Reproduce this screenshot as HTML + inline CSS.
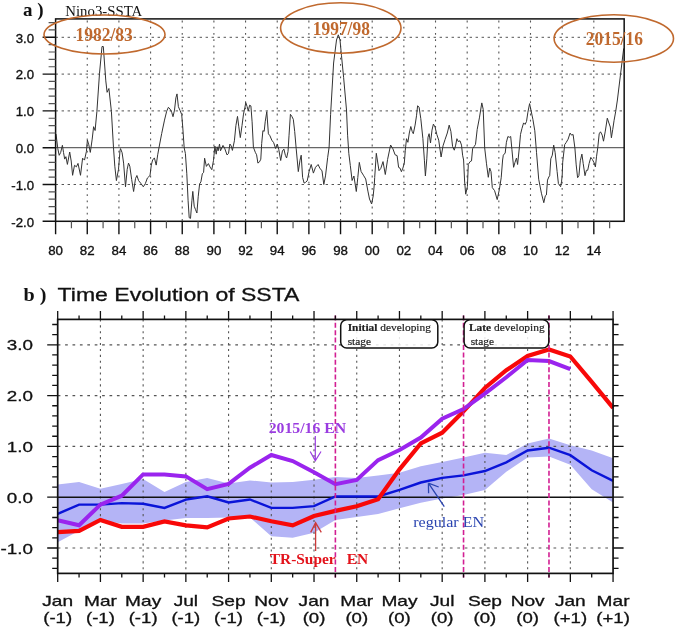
<!DOCTYPE html>
<html><head><meta charset="utf-8"><style>
html,body{margin:0;padding:0;background:#fff;}
body{width:675px;height:629px;overflow:hidden;}
svg{display:block;filter:blur(0.35px);}
</style></head><body>
<svg width="675" height="629" viewBox="0 0 675 629">
<rect width="675" height="629" fill="#fff"/>
<path d="M55.60 37.30H624.17M55.60 74.10H624.17M55.60 110.90H624.17M55.60 184.50H624.17" stroke="#555" stroke-width="1" stroke-dasharray="2.4 3.6" fill="none"/>
<path d="M87.26 18.90V221.30M118.92 18.90V221.30M150.58 18.90V221.30M182.24 18.90V221.30M213.90 18.90V221.30M245.56 18.90V221.30M277.22 18.90V221.30M308.88 18.90V221.30M340.54 18.90V221.30M372.20 18.90V221.30M403.86 18.90V221.30M435.52 18.90V221.30M467.18 18.90V221.30M498.84 18.90V221.30M530.50 18.90V221.30M562.16 18.90V221.30M593.82 18.90V221.30" stroke="#555" stroke-width="1.1" stroke-dasharray="1.8 4.4" stroke-dashoffset="4.5" fill="none"/>
<path d="M55.60 147.70H624.17" stroke="#666" stroke-width="1.3" fill="none"/>
<path d="M56.0 134.0 L57.8 148.6 L59.2 155.3 L60.7 152.4 L62.4 145.3 L63.5 152.4 L64.7 159.1 L65.9 156.7 L67.4 164.4 L69.7 152.0 L71.2 161.0 L72.6 175.3 L74.5 165.3 L76.4 166.8 L78.0 163.4 L80.5 175.3 L82.6 158.2 L84.5 160.1 L86.4 151.5 L87.4 140.0 L88.8 144.8 L90.3 152.4 L92.2 139.1 L93.6 126.7 L95.1 130.5 L96.9 111.4 L99.5 73.3 L102.0 46.5 L103.3 46.5 L105.8 80.9 L107.1 92.3 L108.9 88.5 L111.4 111.4 L113.5 147.8 L114.8 166.2 L116.4 180.6 L118.5 169.3 L120.0 150.7 L120.5 148.6 L122.1 152.7 L123.6 163.1 L125.5 186.8 L127.2 169.3 L128.5 163.1 L129.8 166.2 L131.7 179.6 L133.6 191.5 L135.5 178.6 L136.9 175.5 L138.6 180.6 L140.7 183.2 L143.3 186.8 L145.3 183.7 L147.4 178.0 L150.0 175.5 L151.3 165.1 L152.6 160.0 L154.4 157.9 L156.2 165.1 L157.7 154.8 L159.0 147.6 L161.7 133.5 L164.5 120.1 L166.7 111.2 L168.4 107.3 L170.0 109.0 L171.7 112.3 L173.0 116.7 L174.5 110.1 L175.9 97.8 L177.0 93.9 L178.4 106.7 L180.1 110.6 L181.7 114.5 L182.8 127.9 L184.2 147.9 L185.4 153.5 L186.8 173.8 L188.1 200.8 L189.2 217.7 L190.5 218.4 L191.9 200.8 L192.8 191.4 L194.2 206.2 L195.5 209.6 L196.9 213.0 L198.2 196.8 L199.6 183.9 L200.9 181.9 L202.3 173.8 L203.6 172.4 L204.6 158.2 L206.4 166.4 L208.4 163.6 L210.0 167.0 L211.8 169.7 L213.5 160.3 L214.9 146.1 L216.2 154.2 L217.2 146.8 L218.1 150.8 L219.5 144.1 L220.5 150.8 L223.0 145.4 L224.6 148.1 L227.0 154.9 L228.5 153.5 L229.9 144.0 L231.2 145.9 L232.4 150.4 L234.4 140.8 L235.9 125.6 L237.5 116.4 L238.8 126.8 L240.3 137.6 L242.0 125.6 L243.5 114.1 L244.8 107.8 L245.8 102.7 L247.1 106.5 L248.3 111.0 L249.6 105.2 L250.9 105.9 L252.1 121.8 L253.4 147.2 L255.3 152.3 L256.6 154.8 L257.9 163.1 L259.5 161.8 L260.8 159.2 L261.7 143.4 L262.9 130.7 L264.2 131.3 L265.2 121.8 L266.8 111.6 L268.4 133.8 L269.9 135.7 L271.8 140.2 L273.7 142.7 L275.6 148.5 L277.3 144.0 L278.8 149.7 L280.7 160.5 L282.4 151.0 L283.9 149.1 L285.4 155.4 L286.6 158.0 L288.0 151.6 L289.0 135.8 L290.4 114.3 L291.9 116.5 L293.3 119.3 L294.7 131.5 L296.2 148.7 L298.3 171.6 L300.0 160.2 L301.2 155.2 L302.6 177.4 L304.1 183.1 L305.5 182.4 L307.2 180.9 L309.1 171.6 L311.2 164.5 L313.4 173.1 L315.5 167.3 L318.1 164.5 L319.8 168.1 L322.0 170.9 L323.8 184.5 L325.5 175.9 L327.7 157.3 L329.1 147.3 L330.6 114.3 L333.6 63.0 L336.5 40.0 L338.3 34.8 L340.0 40.0 L341.5 55.8 L343.6 77.3 L346.5 110.0 L347.6 135.2 L348.8 153.3 L350.3 165.4 L352.1 180.5 L353.9 176.0 L356.3 191.5 L357.8 177.5 L359.3 162.4 L361.1 171.5 L363.4 175.2 L365.7 179.0 L367.9 191.1 L369.5 199.0 L371.6 204.0 L373.2 196.0 L374.3 184.3 L374.7 177.5 L376.3 153.3 L379.0 170.7 L380.8 168.4 L383.0 161.6 L385.3 174.5 L387.6 159.4 L390.6 145.0 L392.9 148.8 L395.1 154.8 L397.1 155.6 L398.6 167.4 L400.0 168.1 L401.4 171.7 L402.9 168.1 L404.3 163.1 L405.3 150.2 L406.5 138.7 L407.9 142.3 L409.3 133.0 L410.8 126.5 L412.2 131.5 L413.3 133.7 L415.1 125.1 L416.5 115.8 L417.6 105.8 L419.1 107.2 L420.8 118.7 L422.9 138.7 L424.4 160.2 L425.4 176.0 L426.8 158.8 L428.0 137.3 L429.1 133.7 L430.5 143.0 L432.0 130.1 L433.4 124.1 L435.1 127.2 L436.8 134.4 L438.7 140.1 L441.1 157.0 L443.0 145.9 L445.1 139.4 L447.3 133.0 L449.2 125.1 L450.9 131.5 L452.6 146.6 L454.3 150.2 L455.7 145.1 L456.9 138.7 L458.3 141.6 L460.0 140.8 L461.5 145.1 L462.6 155.2 L463.6 160.0 L464.6 181.0 L465.7 194.2 L467.4 186.7 L468.3 164.4 L470.1 161.6 L471.5 160.9 L472.6 148.7 L474.1 146.6 L475.5 144.4 L477.2 129.4 L479.4 117.9 L481.8 102.9 L483.2 109.3 L484.7 148.0 L486.5 163.8 L488.3 177.3 L489.7 168.0 L491.0 171.6 L492.3 187.6 L494.6 190.7 L497.2 199.6 L499.4 189.3 L501.2 177.8 L502.6 160.0 L503.3 155.2 L505.2 153.0 L506.4 142.3 L507.9 136.5 L509.3 137.3 L510.7 136.5 L511.9 149.4 L513.6 167.3 L515.0 162.3 L516.5 158.0 L517.6 164.5 L519.3 148.0 L520.5 134.4 L521.9 128.7 L523.6 122.9 L525.1 124.4 L526.5 121.5 L527.9 112.2 L529.6 103.6 L531.1 110.8 L532.9 119.4 L534.8 130.8 L536.5 152.3 L538.7 179.2 L541.4 193.2 L543.8 202.7 L545.3 195.8 L546.4 195.0 L547.5 180.1 L548.8 177.0 L549.7 175.7 L550.8 158.8 L552.3 155.2 L553.7 145.1 L555.1 152.3 L557.1 171.4 L558.4 183.6 L560.6 186.7 L561.5 181.9 L562.2 175.7 L562.7 162.2 L564.7 144.6 L566.1 142.6 L568.1 139.2 L570.1 133.1 L571.5 135.1 L573.1 134.5 L574.9 148.0 L576.2 164.9 L577.6 177.7 L578.9 175.7 L580.3 160.8 L581.9 154.1 L583.2 163.5 L585.0 175.7 L586.4 170.3 L587.7 170.3 L589.1 163.5 L590.8 157.4 L592.4 159.5 L594.1 162.8 L595.4 166.9 L596.5 156.8 L597.8 147.3 L599.2 133.8 L600.5 131.8 L602.2 135.1 L603.5 141.2 L605.3 131.1 L607.3 118.2 L608.9 123.0 L610.3 127.0 L611.4 137.8 L612.7 129.7 L614.1 120.3 L615.7 111.5 L617.4 100.0 L620.5 74.5 L623.7 48.4" stroke="#333" stroke-width="1" fill="none" stroke-linejoin="round"/>
<rect x="55.60" y="18.90" width="568.57" height="202.40" fill="none" stroke="#111" stroke-width="1.5"/>
<path d="M55.60 221.30H42.60M55.60 184.50H42.60M55.60 147.70H42.60M55.60 110.90H42.60M55.60 74.10H42.60M55.60 37.30H42.60M55.60 221.30V234.30M87.26 221.30V234.30M118.92 221.30V234.30M150.58 221.30V234.30M182.24 221.30V234.30M213.90 221.30V234.30M245.56 221.30V234.30M277.22 221.30V234.30M308.88 221.30V234.30M340.54 221.30V234.30M372.20 221.30V234.30M403.86 221.30V234.30M435.52 221.30V234.30M467.18 221.30V234.30M498.84 221.30V234.30M530.50 221.30V234.30M562.16 221.30V234.30M593.82 221.30V234.30" stroke="#111" stroke-width="1.4" fill="none"/>
<path d="M55.60 213.94H48.60M55.60 206.58H48.60M55.60 199.22H48.60M55.60 191.86H48.60M55.60 177.14H48.60M55.60 169.78H48.60M55.60 162.42H48.60M55.60 155.06H48.60M55.60 140.34H48.60M55.60 132.98H48.60M55.60 125.62H48.60M55.60 118.26H48.60M55.60 103.54H48.60M55.60 96.18H48.60M55.60 88.82H48.60M55.60 81.46H48.60M55.60 66.74H48.60M55.60 59.38H48.60M55.60 52.02H48.60M55.60 44.66H48.60M55.60 29.94H48.60M55.60 22.58H48.60M71.43 221.30V228.30M103.09 221.30V228.30M134.75 221.30V228.30M166.41 221.30V228.30M198.07 221.30V228.30M229.73 221.30V228.30M261.39 221.30V228.30M293.05 221.30V228.30M324.71 221.30V228.30M356.37 221.30V228.30M388.03 221.30V228.30M419.69 221.30V228.30M451.35 221.30V228.30M483.01 221.30V228.30M514.67 221.30V228.30M546.33 221.30V228.30M577.99 221.30V228.30M609.65 221.30V228.30" stroke="#555" stroke-width="1.2" fill="none"/>
<text x="34" y="42.60" text-anchor="end" style="font-family:'Liberation Sans',sans-serif;font-size:13.2px" fill="#111" stroke="#111" stroke-width="0.35">3.0</text>
<text x="34" y="79.40" text-anchor="end" style="font-family:'Liberation Sans',sans-serif;font-size:13.2px" fill="#111" stroke="#111" stroke-width="0.35">2.0</text>
<text x="34" y="116.20" text-anchor="end" style="font-family:'Liberation Sans',sans-serif;font-size:13.2px" fill="#111" stroke="#111" stroke-width="0.35">1.0</text>
<text x="34" y="153.00" text-anchor="end" style="font-family:'Liberation Sans',sans-serif;font-size:13.2px" fill="#111" stroke="#111" stroke-width="0.35">0.0</text>
<text x="34" y="189.80" text-anchor="end" style="font-family:'Liberation Sans',sans-serif;font-size:13.2px" fill="#111" stroke="#111" stroke-width="0.35">-1.0</text>
<text x="34" y="226.60" text-anchor="end" style="font-family:'Liberation Sans',sans-serif;font-size:13.2px" fill="#111" stroke="#111" stroke-width="0.35">-2.0</text>
<text x="55.60" y="255.3" text-anchor="middle" style="font-family:'Liberation Sans',sans-serif;font-size:13.3px" fill="#111" stroke="#111" stroke-width="0.35">80</text>
<text x="87.26" y="255.3" text-anchor="middle" style="font-family:'Liberation Sans',sans-serif;font-size:13.3px" fill="#111" stroke="#111" stroke-width="0.35">82</text>
<text x="118.92" y="255.3" text-anchor="middle" style="font-family:'Liberation Sans',sans-serif;font-size:13.3px" fill="#111" stroke="#111" stroke-width="0.35">84</text>
<text x="150.58" y="255.3" text-anchor="middle" style="font-family:'Liberation Sans',sans-serif;font-size:13.3px" fill="#111" stroke="#111" stroke-width="0.35">86</text>
<text x="182.24" y="255.3" text-anchor="middle" style="font-family:'Liberation Sans',sans-serif;font-size:13.3px" fill="#111" stroke="#111" stroke-width="0.35">88</text>
<text x="213.90" y="255.3" text-anchor="middle" style="font-family:'Liberation Sans',sans-serif;font-size:13.3px" fill="#111" stroke="#111" stroke-width="0.35">90</text>
<text x="245.56" y="255.3" text-anchor="middle" style="font-family:'Liberation Sans',sans-serif;font-size:13.3px" fill="#111" stroke="#111" stroke-width="0.35">92</text>
<text x="277.22" y="255.3" text-anchor="middle" style="font-family:'Liberation Sans',sans-serif;font-size:13.3px" fill="#111" stroke="#111" stroke-width="0.35">94</text>
<text x="308.88" y="255.3" text-anchor="middle" style="font-family:'Liberation Sans',sans-serif;font-size:13.3px" fill="#111" stroke="#111" stroke-width="0.35">96</text>
<text x="340.54" y="255.3" text-anchor="middle" style="font-family:'Liberation Sans',sans-serif;font-size:13.3px" fill="#111" stroke="#111" stroke-width="0.35">98</text>
<text x="372.20" y="255.3" text-anchor="middle" style="font-family:'Liberation Sans',sans-serif;font-size:13.3px" fill="#111" stroke="#111" stroke-width="0.35">00</text>
<text x="403.86" y="255.3" text-anchor="middle" style="font-family:'Liberation Sans',sans-serif;font-size:13.3px" fill="#111" stroke="#111" stroke-width="0.35">02</text>
<text x="435.52" y="255.3" text-anchor="middle" style="font-family:'Liberation Sans',sans-serif;font-size:13.3px" fill="#111" stroke="#111" stroke-width="0.35">04</text>
<text x="467.18" y="255.3" text-anchor="middle" style="font-family:'Liberation Sans',sans-serif;font-size:13.3px" fill="#111" stroke="#111" stroke-width="0.35">06</text>
<text x="498.84" y="255.3" text-anchor="middle" style="font-family:'Liberation Sans',sans-serif;font-size:13.3px" fill="#111" stroke="#111" stroke-width="0.35">08</text>
<text x="530.50" y="255.3" text-anchor="middle" style="font-family:'Liberation Sans',sans-serif;font-size:13.3px" fill="#111" stroke="#111" stroke-width="0.35">10</text>
<text x="562.16" y="255.3" text-anchor="middle" style="font-family:'Liberation Sans',sans-serif;font-size:13.3px" fill="#111" stroke="#111" stroke-width="0.35">12</text>
<text x="593.82" y="255.3" text-anchor="middle" style="font-family:'Liberation Sans',sans-serif;font-size:13.3px" fill="#111" stroke="#111" stroke-width="0.35">14</text>
<text x="23" y="15.5" style="font-family:'Liberation Serif',serif;font-size:19px;font-weight:bold" fill="#111">a )</text>
<text x="65.3" y="15.5" style="font-family:'Liberation Serif',serif;font-size:14.8px" fill="#111">Nino3-SSTA</text>
<ellipse cx="104.5" cy="34.5" rx="60.5" ry="19.5" fill="none" stroke="#c0692e" stroke-width="1.6"/>
<ellipse cx="340.8" cy="28" rx="60.2" ry="25.2" fill="none" stroke="#c0692e" stroke-width="1.6"/>
<ellipse cx="613.8" cy="38.5" rx="59.7" ry="23.8" fill="none" stroke="#c0692e" stroke-width="1.6"/>
<text x="0" y="0" text-anchor="middle" transform="translate(104.2 40.6) scale(0.92 1)" style="font-family:'Liberation Serif',serif;font-size:19px;font-weight:bold" fill="#c0692e">1982/83</text>
<text x="0" y="0" text-anchor="middle" transform="translate(341.3 35.2) scale(0.92 1)" style="font-family:'Liberation Serif',serif;font-size:19px;font-weight:bold" fill="#c0692e">1997/98</text>
<text x="0" y="0" text-anchor="middle" transform="translate(614.3 45.1) scale(0.92 1)" style="font-family:'Liberation Serif',serif;font-size:19px;font-weight:bold" fill="#c0692e">2015/16</text>
<path d="M57.7 484.5 L79.1 482.0 L100.4 488.8 L121.8 484.0 L143.1 478.9 L164.5 492.1 L185.9 482.0 L207.2 477.9 L228.6 483.5 L249.9 480.4 L271.3 482.5 L292.7 482.0 L314.0 479.7 L335.4 476.9 L356.7 477.9 L378.1 475.4 L399.5 472.8 L420.8 466.2 L442.2 462.1 L463.5 457.6 L484.9 452.8 L506.3 455.0 L527.6 443.4 L549.0 438.5 L570.3 445.2 L591.7 450.5 L613.1 458.3 L613.1 502.4 L591.7 489.3 L570.3 464.7 L549.0 456.6 L527.6 457.6 L506.3 471.8 L484.9 490.1 L463.5 494.9 L442.2 498.4 L420.8 502.8 L399.5 508.2 L378.1 514.0 L356.7 516.9 L335.4 520.1 L314.0 532.8 L292.7 537.8 L271.3 536.2 L249.9 517.5 L228.6 517.5 L207.2 518.0 L185.9 518.0 L164.5 520.6 L143.1 523.6 L121.8 523.6 L100.4 520.6 L79.1 530.7 L57.7 542.2Z" fill="#b4b4f6" stroke="none"/>
<path d="M57.70 344.80H613.06M57.70 395.60H613.06M57.70 446.40H613.06M57.70 548.00H613.06" stroke="#555" stroke-width="1.2" stroke-dasharray="2.7 4.7" fill="none"/>
<path d="M100.42 319.40V573.40M143.14 319.40V573.40M185.86 319.40V573.40M228.58 319.40V573.40M271.30 319.40V573.40M314.02 319.40V573.40M356.74 319.40V573.40M399.46 319.40V573.40M442.18 319.40V573.40M484.90 319.40V573.40M527.62 319.40V573.40M570.34 319.40V573.40" stroke="#555" stroke-width="1.1" stroke-dasharray="2.1 3.8" fill="none"/>
<path d="M57.70 497.20H613.06" stroke="#111" stroke-width="1.4" fill="none"/>
<path d="M57.7 513.8 L79.1 504.6 L100.4 504.6 L121.8 503.1 L143.1 503.7 L164.5 507.9 L185.9 499.6 L207.2 496.3 L228.6 502.5 L249.9 499.5 L271.3 507.9 L292.7 507.9 L314.0 506.1 L335.4 496.5 L356.7 496.5 L378.1 496.5 L399.5 489.8 L420.8 482.5 L442.2 477.9 L463.5 475.4 L484.9 471.0 L506.3 462.3 L527.6 450.5 L549.0 447.7 L570.3 455.2 L591.7 470.3 L613.1 480.9" stroke="#0a14d8" stroke-width="2.4" fill="none" stroke-linejoin="miter" stroke-miterlimit="2"/>
<path d="M57.7 532.1 L79.1 530.9 L100.4 520.0 L121.8 526.8 L143.1 526.8 L164.5 521.5 L185.9 525.3 L207.2 527.4 L228.6 518.5 L249.9 516.5 L271.3 521.3 L292.7 525.4 L314.0 516.0 L335.4 510.9 L356.7 506.3 L378.1 499.2 L399.5 469.3 L420.8 443.4 L442.2 432.7 L463.5 411.3 L484.9 388.0 L506.3 370.2 L527.6 356.0 L549.0 349.4 L570.3 356.5 L591.7 381.9 L613.1 407.8" stroke="#f80808" stroke-width="4.2" fill="none" stroke-linejoin="miter" stroke-miterlimit="2"/>
<path d="M57.7 520.3 L79.1 525.3 L100.4 504.6 L121.8 495.7 L143.1 474.4 L164.5 474.4 L185.9 476.4 L207.2 489.1 L228.6 483.9 L249.9 467.7 L271.3 455.0 L292.7 461.1 L314.0 472.3 L335.4 484.2 L356.7 479.9 L378.1 460.1 L399.5 450.0 L420.8 437.5 L442.2 418.8 L463.5 409.1 L484.9 393.6 L506.3 377.3 L527.6 360.0 L549.0 361.1 L570.3 369.2" stroke="#9a24ee" stroke-width="4.0" fill="none" stroke-linejoin="miter" stroke-miterlimit="2"/>
<path d="M335.38 315.40V577.40M463.54 315.40V577.40M548.98 315.40V577.40" stroke="#d21f93" stroke-width="1.6" stroke-dasharray="5 2.4" fill="none"/>
<rect x="57.70" y="319.40" width="555.36" height="254.00" fill="none" stroke="#111" stroke-width="1.7"/>
<path d="M57.70 568.32H52.20M613.06 568.32H618.56M57.70 558.16H52.20M613.06 558.16H618.56M57.70 548.00H47.20M613.06 548.00H623.56M57.70 537.84H52.20M613.06 537.84H618.56M57.70 527.68H52.20M613.06 527.68H618.56M57.70 517.52H52.20M613.06 517.52H618.56M57.70 507.36H52.20M613.06 507.36H618.56M57.70 497.20H47.20M613.06 497.20H623.56M57.70 487.04H52.20M613.06 487.04H618.56M57.70 476.88H52.20M613.06 476.88H618.56M57.70 466.72H52.20M613.06 466.72H618.56M57.70 456.56H52.20M613.06 456.56H618.56M57.70 446.40H47.20M613.06 446.40H623.56M57.70 436.24H52.20M613.06 436.24H618.56M57.70 426.08H52.20M613.06 426.08H618.56M57.70 415.92H52.20M613.06 415.92H618.56M57.70 405.76H52.20M613.06 405.76H618.56M57.70 395.60H47.20M613.06 395.60H623.56M57.70 385.44H52.20M613.06 385.44H618.56M57.70 375.28H52.20M613.06 375.28H618.56M57.70 365.12H52.20M613.06 365.12H618.56M57.70 354.96H52.20M613.06 354.96H618.56M57.70 344.80H47.20M613.06 344.80H623.56M57.70 334.64H52.20M613.06 334.64H618.56M57.70 324.48H52.20M613.06 324.48H618.56M57.70 573.40V581.90M57.70 319.40V310.90M79.06 573.40V577.40M79.06 319.40V315.40M100.42 573.40V581.90M100.42 319.40V310.90M121.78 573.40V577.40M121.78 319.40V315.40M143.14 573.40V581.90M143.14 319.40V310.90M164.50 573.40V577.40M164.50 319.40V315.40M185.86 573.40V581.90M185.86 319.40V310.90M207.22 573.40V577.40M207.22 319.40V315.40M228.58 573.40V581.90M228.58 319.40V310.90M249.94 573.40V577.40M249.94 319.40V315.40M271.30 573.40V581.90M271.30 319.40V310.90M292.66 573.40V577.40M292.66 319.40V315.40M314.02 573.40V581.90M314.02 319.40V310.90M335.38 573.40V577.40M335.38 319.40V315.40M356.74 573.40V581.90M356.74 319.40V310.90M378.10 573.40V577.40M378.10 319.40V315.40M399.46 573.40V581.90M399.46 319.40V310.90M420.82 573.40V577.40M420.82 319.40V315.40M442.18 573.40V581.90M442.18 319.40V310.90M463.54 573.40V577.40M463.54 319.40V315.40M484.90 573.40V581.90M484.90 319.40V310.90M506.26 573.40V577.40M506.26 319.40V315.40M527.62 573.40V581.90M527.62 319.40V310.90M548.98 573.40V577.40M548.98 319.40V315.40M570.34 573.40V581.90M570.34 319.40V310.90M591.70 573.40V577.40M591.70 319.40V315.40M613.06 573.40V581.90M613.06 319.40V310.90" stroke="#111" stroke-width="1.3" fill="none"/>
<text x="0" y="0" text-anchor="end" transform="translate(33 350.40) scale(1.28 1)" style="font-family:'Liberation Sans',sans-serif;font-size:14.7px" fill="#111" stroke="#111" stroke-width="0.3">3.0</text>
<text x="0" y="0" text-anchor="end" transform="translate(33 401.20) scale(1.28 1)" style="font-family:'Liberation Sans',sans-serif;font-size:14.7px" fill="#111" stroke="#111" stroke-width="0.3">2.0</text>
<text x="0" y="0" text-anchor="end" transform="translate(33 452.00) scale(1.28 1)" style="font-family:'Liberation Sans',sans-serif;font-size:14.7px" fill="#111" stroke="#111" stroke-width="0.3">1.0</text>
<text x="0" y="0" text-anchor="end" transform="translate(33 502.80) scale(1.28 1)" style="font-family:'Liberation Sans',sans-serif;font-size:14.7px" fill="#111" stroke="#111" stroke-width="0.3">0.0</text>
<text x="0" y="0" text-anchor="end" transform="translate(33 553.60) scale(1.28 1)" style="font-family:'Liberation Sans',sans-serif;font-size:14.7px" fill="#111" stroke="#111" stroke-width="0.3">-1.0</text>
<text x="0" y="0" text-anchor="middle" transform="translate(57.70 605.9) scale(1.31 1)" style="font-family:'Liberation Sans',sans-serif;font-size:14.6px" fill="#111" stroke="#111" stroke-width="0.3">Jan</text>
<text x="0" y="0" text-anchor="middle" transform="translate(57.70 622.6) scale(1.31 1)" style="font-family:'Liberation Sans',sans-serif;font-size:14.2px" fill="#111" stroke="#111" stroke-width="0.3">(-1)</text>
<text x="0" y="0" text-anchor="middle" transform="translate(100.42 605.9) scale(1.31 1)" style="font-family:'Liberation Sans',sans-serif;font-size:14.6px" fill="#111" stroke="#111" stroke-width="0.3">Mar</text>
<text x="0" y="0" text-anchor="middle" transform="translate(100.42 622.6) scale(1.31 1)" style="font-family:'Liberation Sans',sans-serif;font-size:14.2px" fill="#111" stroke="#111" stroke-width="0.3">(-1)</text>
<text x="0" y="0" text-anchor="middle" transform="translate(143.14 605.9) scale(1.31 1)" style="font-family:'Liberation Sans',sans-serif;font-size:14.6px" fill="#111" stroke="#111" stroke-width="0.3">May</text>
<text x="0" y="0" text-anchor="middle" transform="translate(143.14 622.6) scale(1.31 1)" style="font-family:'Liberation Sans',sans-serif;font-size:14.2px" fill="#111" stroke="#111" stroke-width="0.3">(-1)</text>
<text x="0" y="0" text-anchor="middle" transform="translate(185.86 605.9) scale(1.31 1)" style="font-family:'Liberation Sans',sans-serif;font-size:14.6px" fill="#111" stroke="#111" stroke-width="0.3">Jul</text>
<text x="0" y="0" text-anchor="middle" transform="translate(185.86 622.6) scale(1.31 1)" style="font-family:'Liberation Sans',sans-serif;font-size:14.2px" fill="#111" stroke="#111" stroke-width="0.3">(-1)</text>
<text x="0" y="0" text-anchor="middle" transform="translate(228.58 605.9) scale(1.31 1)" style="font-family:'Liberation Sans',sans-serif;font-size:14.6px" fill="#111" stroke="#111" stroke-width="0.3">Sep</text>
<text x="0" y="0" text-anchor="middle" transform="translate(228.58 622.6) scale(1.31 1)" style="font-family:'Liberation Sans',sans-serif;font-size:14.2px" fill="#111" stroke="#111" stroke-width="0.3">(-1)</text>
<text x="0" y="0" text-anchor="middle" transform="translate(271.30 605.9) scale(1.31 1)" style="font-family:'Liberation Sans',sans-serif;font-size:14.6px" fill="#111" stroke="#111" stroke-width="0.3">Nov</text>
<text x="0" y="0" text-anchor="middle" transform="translate(271.30 622.6) scale(1.31 1)" style="font-family:'Liberation Sans',sans-serif;font-size:14.2px" fill="#111" stroke="#111" stroke-width="0.3">(-1)</text>
<text x="0" y="0" text-anchor="middle" transform="translate(314.02 605.9) scale(1.31 1)" style="font-family:'Liberation Sans',sans-serif;font-size:14.6px" fill="#111" stroke="#111" stroke-width="0.3">Jan</text>
<text x="0" y="0" text-anchor="middle" transform="translate(314.02 622.6) scale(1.31 1)" style="font-family:'Liberation Sans',sans-serif;font-size:14.2px" fill="#111" stroke="#111" stroke-width="0.3">(0)</text>
<text x="0" y="0" text-anchor="middle" transform="translate(356.74 605.9) scale(1.31 1)" style="font-family:'Liberation Sans',sans-serif;font-size:14.6px" fill="#111" stroke="#111" stroke-width="0.3">Mar</text>
<text x="0" y="0" text-anchor="middle" transform="translate(356.74 622.6) scale(1.31 1)" style="font-family:'Liberation Sans',sans-serif;font-size:14.2px" fill="#111" stroke="#111" stroke-width="0.3">(0)</text>
<text x="0" y="0" text-anchor="middle" transform="translate(399.46 605.9) scale(1.31 1)" style="font-family:'Liberation Sans',sans-serif;font-size:14.6px" fill="#111" stroke="#111" stroke-width="0.3">May</text>
<text x="0" y="0" text-anchor="middle" transform="translate(399.46 622.6) scale(1.31 1)" style="font-family:'Liberation Sans',sans-serif;font-size:14.2px" fill="#111" stroke="#111" stroke-width="0.3">(0)</text>
<text x="0" y="0" text-anchor="middle" transform="translate(442.18 605.9) scale(1.31 1)" style="font-family:'Liberation Sans',sans-serif;font-size:14.6px" fill="#111" stroke="#111" stroke-width="0.3">Jul</text>
<text x="0" y="0" text-anchor="middle" transform="translate(442.18 622.6) scale(1.31 1)" style="font-family:'Liberation Sans',sans-serif;font-size:14.2px" fill="#111" stroke="#111" stroke-width="0.3">(0)</text>
<text x="0" y="0" text-anchor="middle" transform="translate(484.90 605.9) scale(1.31 1)" style="font-family:'Liberation Sans',sans-serif;font-size:14.6px" fill="#111" stroke="#111" stroke-width="0.3">Sep</text>
<text x="0" y="0" text-anchor="middle" transform="translate(484.90 622.6) scale(1.31 1)" style="font-family:'Liberation Sans',sans-serif;font-size:14.2px" fill="#111" stroke="#111" stroke-width="0.3">(0)</text>
<text x="0" y="0" text-anchor="middle" transform="translate(527.62 605.9) scale(1.31 1)" style="font-family:'Liberation Sans',sans-serif;font-size:14.6px" fill="#111" stroke="#111" stroke-width="0.3">Nov</text>
<text x="0" y="0" text-anchor="middle" transform="translate(527.62 622.6) scale(1.31 1)" style="font-family:'Liberation Sans',sans-serif;font-size:14.2px" fill="#111" stroke="#111" stroke-width="0.3">(0)</text>
<text x="0" y="0" text-anchor="middle" transform="translate(570.34 605.9) scale(1.31 1)" style="font-family:'Liberation Sans',sans-serif;font-size:14.6px" fill="#111" stroke="#111" stroke-width="0.3">Jan</text>
<text x="0" y="0" text-anchor="middle" transform="translate(570.34 622.6) scale(1.31 1)" style="font-family:'Liberation Sans',sans-serif;font-size:14.2px" fill="#111" stroke="#111" stroke-width="0.3">(+1)</text>
<text x="0" y="0" text-anchor="middle" transform="translate(613.06 605.9) scale(1.31 1)" style="font-family:'Liberation Sans',sans-serif;font-size:14.6px" fill="#111" stroke="#111" stroke-width="0.3">Mar</text>
<text x="0" y="0" text-anchor="middle" transform="translate(613.06 622.6) scale(1.31 1)" style="font-family:'Liberation Sans',sans-serif;font-size:14.2px" fill="#111" stroke="#111" stroke-width="0.3">(+1)</text>
<text x="0" y="0" transform="translate(23.6 300.9) scale(1.08 1)" style="font-family:'Liberation Serif',serif;font-size:18.6px;font-weight:bold" fill="#111">b )</text>
<text x="0" y="0" transform="translate(57.6 300.6) scale(1.28 1)" style="font-family:'Liberation Sans',sans-serif;font-size:18px" fill="#111" stroke="#111" stroke-width="0.3">Time Evolution of SSTA</text>
<rect x="340.7" y="319.7" width="97.1" height="28.4" rx="6" ry="6" fill="#fff" fill-opacity="0.85" stroke="#111" stroke-width="1.5"/>
<text x="347.7" y="331" style="font-family:'Liberation Serif',serif;font-size:11.4px" fill="#222" stroke="#222" stroke-width="0.2"><tspan font-weight="bold">Initial</tspan> developing</text>
<text x="347.7" y="344.5" style="font-family:'Liberation Serif',serif;font-size:11.4px" fill="#222" stroke="#222" stroke-width="0.2">stage</text>
<rect x="464.1" y="319.7" width="84.7" height="28.4" rx="6" ry="6" fill="#fff" fill-opacity="0.85" stroke="#111" stroke-width="1.5"/>
<text x="469.0" y="331" style="font-family:'Liberation Serif',serif;font-size:11.4px" fill="#222" stroke="#222" stroke-width="0.2"><tspan font-weight="bold">Late</tspan> developing</text>
<text x="470.70000000000005" y="344.5" style="font-family:'Liberation Serif',serif;font-size:11.4px" fill="#222" stroke="#222" stroke-width="0.2">stage</text>
<text x="0" y="0" transform="translate(268.7 433.0) scale(1.11 1)" style="font-family:'Liberation Serif',serif;font-size:14.2px;font-weight:bold" fill="#9a3ce0">2015/16 EN</text>
<path d="M315.3 436V460.6M310.2 451.5L315.3 460.8L321 451.5" stroke="#9a3ce0" stroke-width="1.2" fill="none"/>
<text x="269.8" y="564" style="font-family:'Liberation Serif',serif;font-size:15.4px;font-weight:bold" fill="#e3131b">TR-Super</text>
<text x="346.8" y="564" style="font-family:'Liberation Serif',serif;font-size:15.4px;font-weight:bold" fill="#e3131b">EN</text>
<path d="M315.6 551V523M310.7 532.4L315.6 522.7L321.3 532.4" stroke="#cc3a3a" stroke-width="1.3" fill="none"/>
<text x="0" y="0" transform="translate(413.2 527.4) scale(1.1 1)" style="font-family:'Liberation Serif',serif;font-size:14.6px" fill="#2a44b0">regular EN</text>
<path d="M444.3 506.7L428.6 483.4M428.4 483.2L428.6 493.2M428.4 483.2L438.7 487" stroke="#2a44b0" stroke-width="1.3" fill="none"/>
</svg>
</body></html>
